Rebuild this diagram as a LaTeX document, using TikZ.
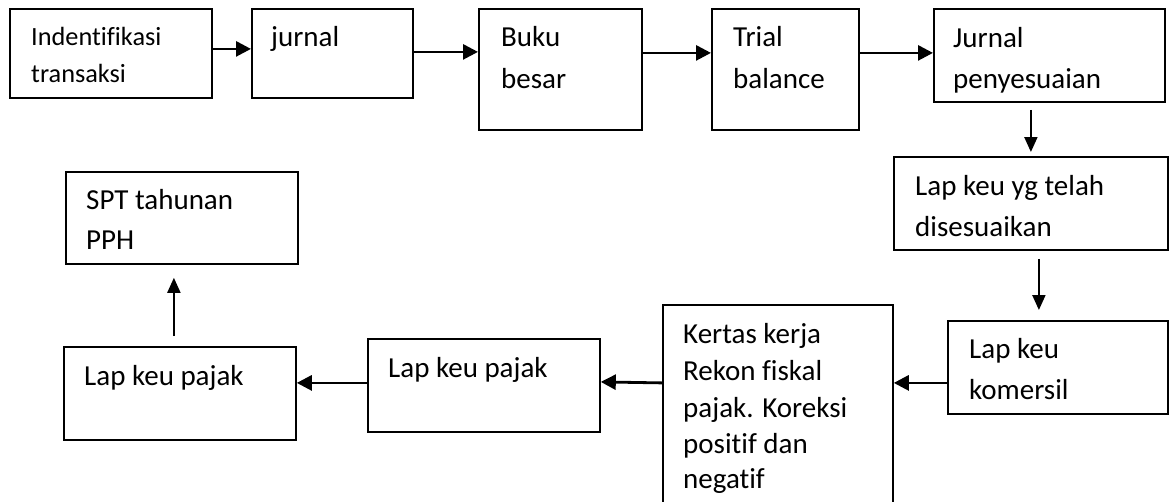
\documentclass[tikz,border=0pt]{standalone}
\usepackage{fontspec}
\setmainfont{Carlito}[Ligatures=NoCommon]
\usetikzlibrary{arrows.meta}
\tikzset{
  box/.style={draw=black, line width=1.8pt, anchor=north west, inner sep=0pt},
  harr/.style={draw=black, line width=2.8pt, -{Triangle[length=15pt,width=15pt]}},
  varr/.style={draw=black, line width=2pt, -{Triangle[length=15pt,width=13pt]}},
  lbl/.style={anchor=base west, inner sep=0pt, font=\fontsize{29}{35}\selectfont},
  lblsmall/.style={anchor=base west, inner sep=0pt, font=\fontsize{26.3}{32}\selectfont}
}
\begin{document}
\begin{tikzpicture}[x=1pt,y=-1pt]
\clip (0,0) rectangle (1170,501);
\fill[white] (0,0) rectangle (1170,501);
% boxes
\node[box, minimum width=202pt, minimum height=89pt] (b1) at (9,8) {};
\node[box, minimum width=161pt, minimum height=89pt] (b2) at (251,8) {};
\node[box, minimum width=163pt, minimum height=121pt] (b3) at (478,8) {};
\node[box, minimum width=147pt, minimum height=121pt] (b4) at (711,8) {};
\node[box, minimum width=231pt, minimum height=93pt] (b5) at (933,8) {};
\node[box, minimum width=274pt, minimum height=93pt] (b6) at (893,156) {};
\node[box, minimum width=220pt, minimum height=93pt] (b7) at (947,320) {};
\node[box, minimum width=230pt, minimum height=230pt] (b8) at (662,304) {};
\node[box, minimum width=232pt, minimum height=93pt] (b9) at (367,338) {};
\node[box, minimum width=232pt, minimum height=93pt] (b10) at (63,346) {};
\node[box, minimum width=232pt, minimum height=92pt] (b11) at (65,171) {};
% texts
\node[lblsmall] (t1a) at (31,45) {Indentifikasi};
\node[lblsmall] (t1b) at (31,82) {transaksi};
\node[lbl] (t2) at (271,46) {jurnal};
\node[lbl] (t3a) at (501,46) {Buku};
\node[lbl] (t3b) at (501,88) {besar};
\node[lbl] (t4a) at (733,46) {Trial};
\node[lbl] (t4b) at (733,88) {balance};
\begin{scope}
\clip (b5.north west) rectangle ([yshift=10pt]b5.south east);
\node[lbl] (t5a) at (953,47) {Jurnal};
\node[lbl] (t5b) at (953,88) {penyesuaian};
\end{scope}
\node[lbl] (t6a) at (915,195) {Lap keu yg telah};
\node[lbl] (t6b) at (915,236) {disesuaikan};
\node[lbl] (t7a) at (969,358) {Lap keu};
\node[lbl] (t7b) at (969,399) {komersil};
\node[lbl] (t8a) at (683,343) {Kertas kerja};
\node[lbl] (t8b) at (683,380) {Rekon fiskal};
\node[lbl] (t8c) at (683,417) {pajak. Koreksi};
\node[lbl] (t8d) at (683,453) {positif dan};
\node[lbl] (t8e) at (683,488) {negatif};
\node[lbl] (t9) at (388,377) {Lap keu pajak};
\node[lbl] (t10) at (84,385) {Lap keu pajak};
\node[lbl] (t11a) at (86,209) {SPT tahunan};
\node[lbl] (t11b) at (86,249) {PPH};
% connectors
\draw[harr] ([yshift=4.5pt]b1.east) -- ([yshift=4.5pt]b2.west);
\draw[harr] ([yshift=1.5pt]b2.east) -- ([yshift=17.5pt]b3.west);
\draw[harr] ([yshift=16.5pt]b3.east) -- ([yshift=16.5pt]b4.west);
\draw[harr] ([yshift=16.5pt]b4.east) -- ([yshift=2.5pt]b5.west);
\draw[varr] ([xshift=-18.5pt,yshift=-7pt]b5.south) -- ([yshift=4pt]b6.north);
\draw[varr] ([xshift=8pt,yshift=-8pt]b6.south) -- ([xshift=-19pt,yshift=10pt]b7.north);
\draw[harr] ([yshift=-15.5pt]b7.west) -- ([yshift=37pt]b8.east);
\draw[harr] ([yshift=37pt]b8.west) -- ([yshift=3.5pt]b9.east);
\draw[harr] ([yshift=2.5pt]b9.west) -- ([yshift=10.5pt]b10.east);
\draw[varr] ([xshift=-6pt,yshift=10pt]b10.north) -- ([xshift=-8pt,yshift=-13pt]b11.south);
\end{tikzpicture}
\end{document}
